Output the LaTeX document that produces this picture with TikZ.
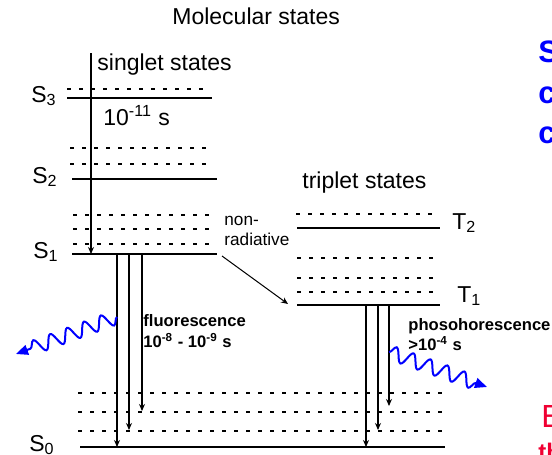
\documentclass[tikz,border=0pt]{standalone}
\usepackage{fontspec}
\setmainfont{Liberation Sans}
\usepackage{tikz}
\usetikzlibrary{arrows.meta, positioning, decorations.pathmorphing}
\definecolor{slidered}{RGB}{240,0,50}

\begin{document}
\begin{tikzpicture}[x=0.5pt, y=-0.5pt, >={Stealth[length=3.5pt,width=3pt]},
   font=\fontsize{11.5}{13}\selectfont,
   txt/.style={anchor=base west, inner sep=0pt},
   lbl/.style={anchor=base east, inner sep=0pt},
   note/.style={txt, font=\fontsize{8.6}{10}\selectfont},
   rate/.style={txt, font=\fontsize{8.3}{10}\selectfont\bfseries},
   slide/.style={txt, font=\fontsize{15.5}{18}\selectfont\bfseries, text=blue},
   lvl/.style={line width=1pt},
   vib/.style={line width=1pt, dash pattern=on 2pt off 4pt},
   trans/.style={->, line width=0.8pt},
   photon/.style={blue, line width=1pt, -{Triangle[length=6pt,width=5pt]}, decorate,
      decoration={snake, amplitude=3.5pt, segment length=9pt, post length=5pt}}]
\clip (0,0) rectangle (552,455);
% singlet states
\node[txt] (title) at (172,25) {Molecular states};
\node[txt] (sing) at (97,70) {singlet states};
\node[lbl] (S3) at (57,102) {S\textsubscript{3}};
\node[lbl] (S2) at (58,183) {S\textsubscript{2}};
\node[lbl] (S1) at (59,258) {S\textsubscript{1}};
\node[lbl] (S0) at (55,451) {S\textsubscript{0}};
\node[txt] (ic) at (103,125) {10\textsuperscript{-11} s};
\draw[vib] (67,89) -- (205,89);
\draw[lvl] (67,98) -- (212,98);
\foreach \y in {148,164} \draw[vib] (70,\y) -- (210,\y);
\draw[lvl] (72,179) -- (217,179);
\foreach \y in {215,229,244} \draw[vib] (73,\y) -- (212,\y);
\draw[lvl] (72,254) -- (217,254);
\foreach \y in {393,412,431} \draw[vib] (78,\y) -- (445,\y);
\draw[lvl] (80,447) -- (445,447);
\coordinate (abs) at (91,53);
\coordinate (relax) at (91,254);
\draw[trans] (abs) -- (relax);
% triplet states
\node[txt] (trip) at (302,188) {triplet states};
\node[txt] (T2) at (452,229) {T\textsubscript{2}};
\node[txt] (T1) at (457,302) {T\textsubscript{1}};
\draw[vib] (296,214) -- (433,214);
\draw[lvl] (297,228) -- (440,228);
\foreach \y in {258,278,292} \draw[vib] (297,\y) -- (433,\y);
\draw[lvl] (297,305) -- (440,305);
% crossing
\node[note] (non) at (224,225) {non-};
\node[note] (rad) at (224,245) {radiative};
\coordinate (isc) at (222,256);
\coordinate (isce) at (288,304);
\draw[->, line width=0.5pt] (isc) -- (isce);
% fluorescence and phosphorescence
\foreach \x/\y [count=\i] in {117/447,129/430,142/411} {
  \coordinate (fa\i) at (\x,254); \coordinate (fb\i) at (\x,\y);
  \draw[trans] (fa\i) -- (fb\i);
}
\foreach \x/\y [count=\i] in {366/447,378/430,389/406} {
  \coordinate (pa\i) at (\x,305); \coordinate (pb\i) at (\x,\y);
  \draw[trans] (pa\i) -- (pb\i);
}
\node[rate] (fl) at (143,326) {fluorescence};
\node[rate] (flt) at (143,347) {10\textsuperscript{-8} - 10\textsuperscript{-9} s};
\node[rate] (ph) at (408,330) {phosohorescence};
\node[rate] (pht) at (408,350) {>10\textsuperscript{-4} s};
\coordinate (flout) at (16,354);
\coordinate (phout) at (487,387);
\draw[photon] (fa1 |- 0,317) -- (flout);
\draw[photon] (pa3 |- 0,352) -- (phout);
% slide text
\node[slide] (w1) at (538,62) {S};
\node[slide] (w2) at (538,103) {c};
\node[slide] (w3) at (538,143) {c};
\node[txt, font=\fontsize{16}{18}\selectfont, text=slidered] (w4) at (541,427) {E};
\node[txt, font=\fontsize{12}{14}\selectfont\bfseries, text=slidered] (w5) at (538,460) {th};
\end{tikzpicture}
\end{document}
